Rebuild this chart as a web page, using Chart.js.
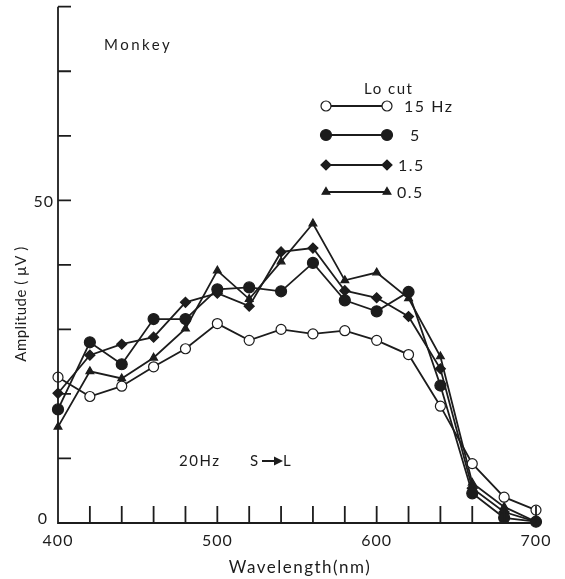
<!DOCTYPE html>
<html>
<head>
<meta charset="utf-8">
<title>Monkey – amplitude vs wavelength</title>
<script src="https://cdn.jsdelivr.net/npm/chart.js@4.4.0/dist/chart.umd.min.js"></script>
<style>
  html, body { margin: 0; padding: 0; background: #fff; }
  #wrap { width: 565px; height: 579px; }
</style>
</head>
<body>
<div id="wrap"><canvas id="ampChart" width="565" height="579"></canvas></div>
<script>
// wavelengths (nm), one point every 20 nm
const wavelengths = [400, 420, 440, 460, 480, 500, 520, 540, 560, 580, 600, 620, 640, 660, 680, 700];

// amplitude (µV) for each low-cut setting
const loCut15 = [22.6, 19.6, 21.2, 24.2, 27.0, 30.9, 28.3, 30.0, 29.3, 29.8, 28.3, 26.1, 18.1, 9.2, 4.0, 2.0];
const loCut5 = [17.6, 28.0, 24.6, 31.6, 31.6, 36.2, 36.5, 35.9, 40.3, 34.5, 32.8, 35.8, 21.3, 4.6, 0.8, 0.2];
const loCut1_5 = [20.1, 26.0, 27.7, 28.8, 34.2, 35.6, 33.6, 42.0, 42.6, 36.0, 34.9, 32.0, 23.9, 5.4, 1.7, 0.2];
const loCut0_5 = [14.9, 23.5, 22.4, 25.6, 30.1, 39.1, 34.7, 40.5, 46.4, 37.6, 38.8, 34.8, 25.8, 6.2, 2.5, 0.2];

const seriesNames = ['15 Hz', '5', '1.5', '0.5'];

// axis ticks and labels
const xTicks = [420, 440, 460, 480, 500, 520, 540, 560, 580, 600, 620, 640, 660, 680, 700];
const xTickLabels = [400, 500, 600, 700];
const yTicks = [10, 20, 30, 40, 50, 60, 70, 80];
const yTickLabels = [0, 50];

const INK = '#1c1c1c';
const FONT = 'Lato, "DejaVu Sans", sans-serif';

const toPoints = arr => arr.map((v, i) => ({ x: wavelengths[i], y: v }));

const styles = [
  { pointStyle: 'circle', radius: 5, fill: '#fff' },
  { pointStyle: 'circle', radius: 5.5, fill: INK },
  { pointStyle: 'rectRot', radius: 5, fill: INK },
  { pointStyle: 'triangle', radius: 4.5, fill: INK }
];

const makeSet = (label, data, s) => ({
  label,
  data: toPoints(data),
  borderColor: INK,
  borderWidth: 1.8,
  pointStyle: s.pointStyle,
  pointRadius: s.radius,
  pointBackgroundColor: s.fill,
  pointBorderColor: INK,
  pointBorderWidth: 1.2,
  tension: 0,
  clip: false
});

// hand-drawn style axes: axis lines with inward ticks, sparse labels
const axesPlugin = {
  id: 'axesPlugin',
  afterDraw(chart) {
    const { ctx, scales: { x, y } } = chart;
    const x0 = x.getPixelForValue(400), x1 = x.getPixelForValue(700);
    const y0 = y.getPixelForValue(0), yTop = y.getPixelForValue(80);
    ctx.save();
    ctx.strokeStyle = INK;
    ctx.lineWidth = 1.8;
    ctx.beginPath();
    ctx.moveTo(x0, yTop);
    ctx.lineTo(x0, y0);
    ctx.lineTo(x1, y0);
    ctx.stroke();

    ctx.beginPath();
    xTicks.forEach(v => {
      const px = x.getPixelForValue(v);
      ctx.moveTo(px, y0);
      ctx.lineTo(px, y0 - 17);
    });
    yTicks.forEach(v => {
      const py = y.getPixelForValue(v);
      ctx.moveTo(x0, py);
      ctx.lineTo(x0 + 13, py);
    });
    ctx.stroke();

    ctx.fillStyle = INK;
    ctx.font = '16px ' + FONT;
    ctx.letterSpacing = '1px';
    ctx.textBaseline = 'middle';
    ctx.textAlign = 'center';
    xTickLabels.forEach(v => {
      ctx.fillText(String(v), x.getPixelForValue(v), y0 + 18);
    });
    ctx.textAlign = 'right';
    yTickLabels.forEach(v => {
      const dx = v === 0 ? 10 : 4;
      const dy = v === 0 ? -4 : 2;
      ctx.fillText(String(v), x0 - dx, y.getPixelForValue(v) + dy);
    });

    // axis titles
    ctx.textAlign = 'center';
    ctx.font = '17px ' + FONT;
    ctx.letterSpacing = '1.5px';
    ctx.fillText('Wavelength(nm)', (x0 + x1) / 2 + 3, y0 + 45);
    ctx.save();
    ctx.translate(21, 304);
    ctx.rotate(-Math.PI / 2);
    ctx.font = '15px ' + FONT;
    ctx.letterSpacing = '0.5px';
    ctx.fillText('Amplitude ( µV )', 0, 0);
    ctx.restore();

    // annotations
    ctx.font = '15px ' + FONT;
    ctx.letterSpacing = '2.5px';
    ctx.textAlign = 'left';
    ctx.fillText('Monkey', 104, 45);
    ctx.font = '15px ' + FONT;
    ctx.letterSpacing = '1.5px';
    ctx.fillText('20Hz', 179, 461);
    ctx.fillText('S', 250, 461);
    ctx.fillText('L', 283, 461);
    ctx.beginPath();
    ctx.lineWidth = 2;
    ctx.moveTo(262, 461);
    ctx.lineTo(276, 461);
    ctx.stroke();
    ctx.beginPath();
    ctx.moveTo(283, 461);
    ctx.lineTo(274, 456.5);
    ctx.lineTo(274, 465.5);
    ctx.closePath();
    ctx.fill();
    ctx.restore();
  }
};

// legend: a sample line with a marker at each end
const legendPlugin = {
  id: 'legendPlugin',
  afterDraw(chart) {
    const { ctx } = chart;
    ctx.save();
    ctx.fillStyle = INK;
    ctx.font = '15px ' + FONT;
    ctx.letterSpacing = '1.5px';
    ctx.textBaseline = 'middle';
    ctx.textAlign = 'left';
    ctx.fillText('Lo cut', 364, 89);

    const rows = [106, 135, 165, 192];
    const labelX = [404, 410, 398, 397];
    chart.data.datasets.forEach((ds, i) => {
      const s = styles[i];
      const yy = rows[i];
      ctx.strokeStyle = INK;
      ctx.lineWidth = 1.8;
      ctx.beginPath();
      ctx.moveTo(326, yy);
      ctx.lineTo(387, yy);
      ctx.stroke();
      [326, 387].forEach(px => {
        ctx.fillStyle = s.fill;
        ctx.lineWidth = 1.2;
        Chart.helpers.drawPoint(ctx, {
          pointStyle: s.pointStyle, radius: s.radius, rotation: 0, borderWidth: 1.2
        }, px, yy);
      });
      ctx.fillStyle = INK;
      ctx.font = '16px ' + FONT;
      ctx.fillText(ds.label, labelX[i], yy + 1);
    });
    ctx.restore();
  }
};

new Chart(document.getElementById('ampChart'), {
  type: 'line',
  data: {
    datasets: [
      makeSet(seriesNames[0], loCut15, styles[0]),
      makeSet(seriesNames[1], loCut5, styles[1]),
      makeSet(seriesNames[2], loCut1_5, styles[2]),
      makeSet(seriesNames[3], loCut0_5, styles[3])
    ]
  },
  options: {
    responsive: false,
    animation: false,
    layout: { padding: { left: 58, right: 29, top: 6, bottom: 56 } },
    plugins: { legend: { display: false }, tooltip: { enabled: false } },
    scales: {
      x: { type: 'linear', min: 400, max: 700, display: false },
      y: { type: 'linear', min: 0, max: 80, display: false }
    }
  },
  plugins: [axesPlugin, legendPlugin]
});
</script>
</body>
</html>
